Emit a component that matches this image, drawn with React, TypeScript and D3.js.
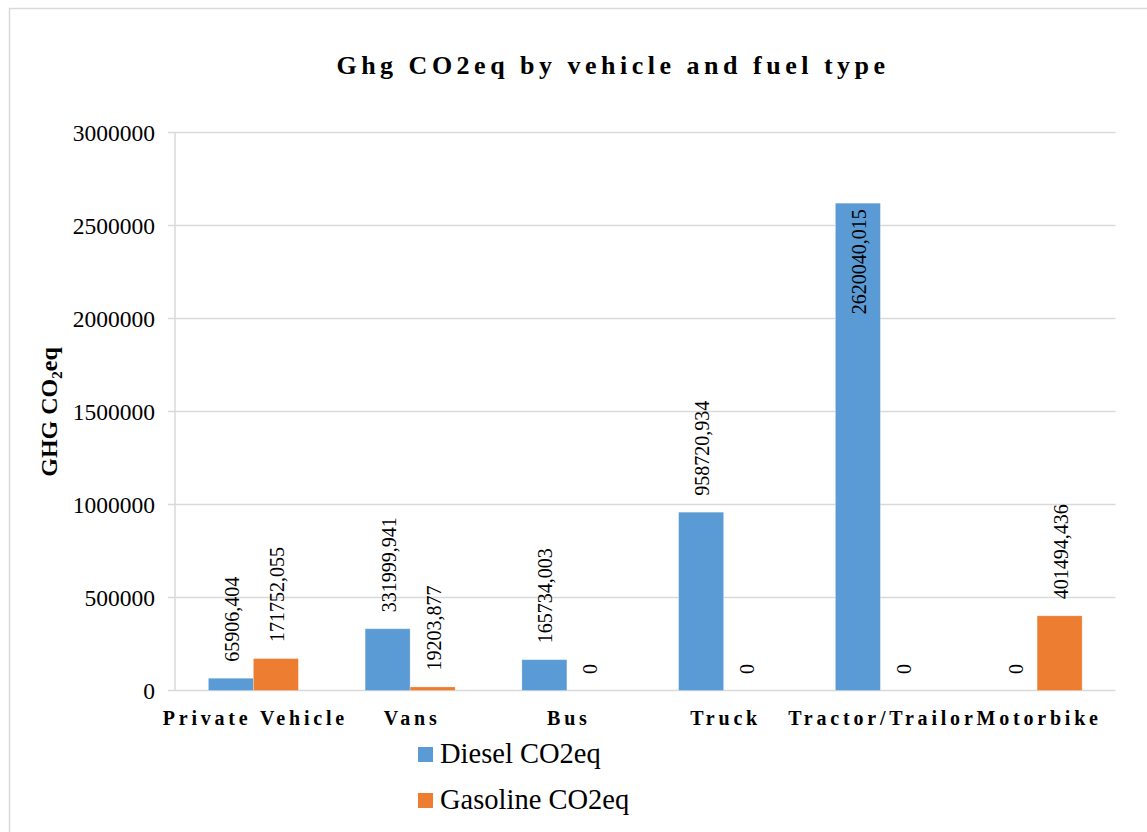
import React from "react";
import * as d3 from "d3";

const categories = ["Private Vehicle", "Vans", "Bus", "Truck", "Tractor/Trailor", "Motorbike"];
const series = ["Diesel CO2eq", "Gasoline CO2eq"];
const dieselValues = [65906.404, 331999.941, 165734.003, 958720.934, 2620040.015, 0];
const gasolineValues = [171752.055, 19203.877, 0, 0, 0, 401494.436];
const dieselLabels = ["65906,404", "331999,941", "165734,003", "958720,934", "2620040,015", "0"];
const gasolineLabels = ["171752,055", "19203,877", "0", "0", "0", "401494,436"];
const yTicks = [0, 500000, 1000000, 1500000, 2000000, 2500000, 3000000];
const colors = ["#5b9bd5", "#ed7d31"];

const W = 1147;
const H = 832;
const FONT = "Liberation Serif";

export default function App() {
  const left = 175;
  const right = 1115.5;
  const top = 132.5;
  const bottom = 690.5;

  const x0 = d3
    .scaleBand<string>()
    .domain(categories)
    .range([left, right])
    .paddingInner(0.426)
    .paddingOuter(0.213);
  const x1 = d3.scaleBand<string>().domain(series).range([0, x0.bandwidth()]).padding(0);
  const y = d3.scaleLinear().domain([0, 3000000]).range([bottom, top]);

  const valuesBySeries = [dieselValues, gasolineValues];
  const labelsBySeries = [dieselLabels, gasolineLabels];
  const labelFont = 20;
  const charW = (s: string) =>
    s.split("").reduce((a, c) => a + (c === "," ? 0.25 : 0.5), 0) * labelFont;

  return (
    <svg
      width={W}
      height={H}
      style={{ position: "absolute", left: 0, top: 0, background: "#fff" }}
    >
      <rect x={9.5} y={8.5} width={1150} height={840} fill="#fff" stroke="#d9d9d9" strokeWidth={1.5} />

      <text
        x={613}
        y={74}
        textAnchor="middle"
        fontFamily={FONT}
        fontSize={26}
        fontWeight="bold"
        letterSpacing={4.5}
        fill="#000"
      >
        Ghg CO2eq by vehicle and fuel type
      </text>

      {yTicks.map((t) => (
        <g key={t}>
          <line x1={168} x2={right} y1={y(t)} y2={y(t)} stroke="#d9d9d9" strokeWidth={1.5} />
          <text
            x={155}
            y={y(t)}
            dy="0.38em"
            textAnchor="end"
            fontFamily={FONT}
            fontSize={23.5}
            fill="#000"
          >
            {t}
          </text>
        </g>
      ))}
      <line x1={left} x2={left} y1={top} y2={bottom} stroke="#d9d9d9" strokeWidth={1.5} />

      <text
        transform={`translate(57,412) rotate(-90)`}
        textAnchor="middle"
        fontFamily={FONT}
        fontSize={24}
        fontWeight="bold"
        fill="#000"
      >
        GHG CO
        <tspan fontSize={15} dy="5">2</tspan>
        <tspan dy="-5">eq</tspan>
      </text>

      {categories.map((c, i) => (
        <g key={c}>
          {series.map((s, si) => {
            const v = valuesBySeries[si][i];
            const bx = (x0(c) as number) + (x1(s) as number);
            const bw = x1.bandwidth();
            const by = y(v);
            const cx = bx + bw / 2;
            const label = labelsBySeries[si][i];
            const len = charW(label);
            const outsideStart = by - 16.5;
            const inside = outsideStart - len < top;
            const ly = inside ? by + 6 + len : outsideStart;
            return (
              <g key={s}>
                {v > 0 && (
                  <rect
                    x={bx}
                    y={by}
                    width={bw}
                    height={bottom - by}
                    fill={colors[si]}
                    stroke="#ffffff"
                    strokeOpacity={0.35}
                    strokeWidth={0.75}
                  />
                )}
                <text
                  transform={`translate(${cx},${ly}) rotate(-90)`}
                  dy="0.4em"
                  textAnchor="start"
                  fontFamily={FONT}
                  fontSize={labelFont}
                  fill="#000"
                >
                  {label}
                </text>
              </g>
            );
          })}
          <text
            x={(x0(c) as number) + x0.bandwidth() / 2 + 2}
            y={725}
            textAnchor="middle"
            fontFamily={FONT}
            fontSize={20}
            fontWeight="bold"
            letterSpacing={3.8}
            fill="#000"
          >
            {c}
          </text>
        </g>
      ))}

      {series.map((s, si) => (
        <g key={s}>
          <rect x={418} y={747 + si * 46} width={15} height={15} fill={colors[si]} />
          <text x={440} y={763 + si * 46} fontFamily={FONT} fontSize={28.5} fill="#000">
            {s}
          </text>
        </g>
      ))}
    </svg>
  );
}
